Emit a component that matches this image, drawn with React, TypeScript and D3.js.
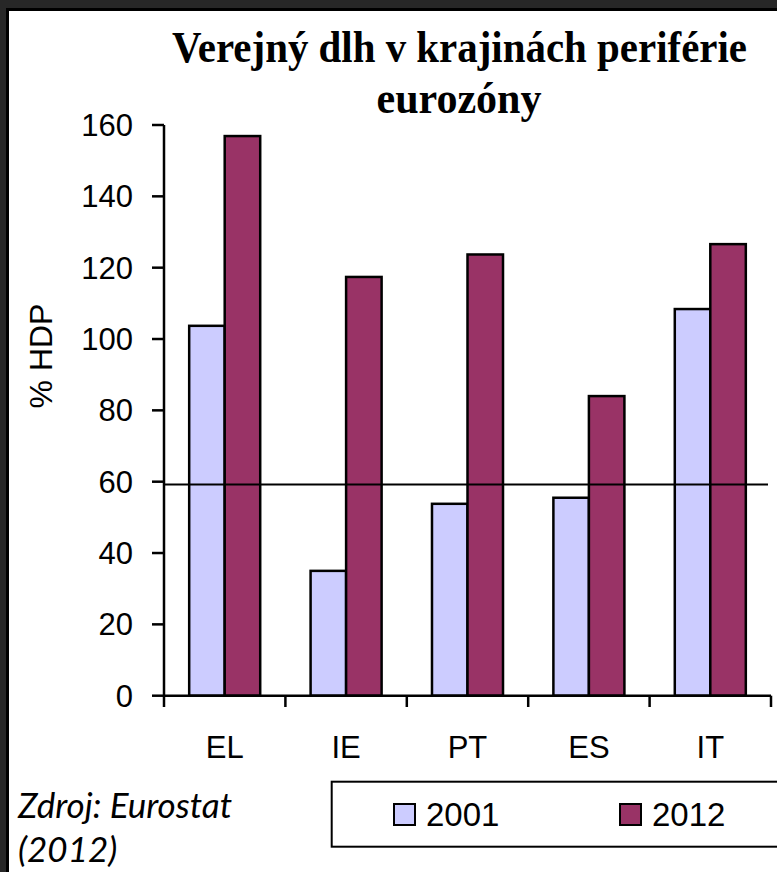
import React, { useLayoutEffect, useRef, useState } from "react";
import * as d3 from "d3";

const categories = ["EL", "IE", "PT", "ES", "IT"];
const seriesNames = ["2001", "2012"];
const values2001 = [103.7, 35.0, 53.8, 55.5, 108.4];
const values2012 = [156.9, 117.4, 123.7, 84.0, 126.6];
const yTicks = [0, 20, 40, 60, 80, 100, 120, 140, 160];
const referenceValue = 59.2;
const colors = ["#CCCCFF", "#993366"];
const titleLines = ["Verejný dlh v krajinách periférie", "eurozóny"];

const W = 777;
const H = 872;
const axisX0 = 164;
const axisX1 = 771;
const y0 = 695.7;
const yTop = 125;

function FitText({ text, cx, y, width, fontSize }: { text: string; cx: number; y: number; width: number; fontSize: number }) {
  const ref = useRef<SVGTextElement>(null);
  const [sx, setSx] = useState(0.8);
  useLayoutEffect(() => {
    if (ref.current) {
      const w = ref.current.getComputedTextLength();
      if (w > 0) setSx(width / w);
    }
  }, [text, width]);
  return (
    <text
      ref={ref}
      transform={`translate(${cx},${y}) scale(${sx},1)`}
      textAnchor="middle"
      fontFamily="'Liberation Serif', 'Times New Roman', serif"
      fontWeight="bold"
      fontSize={fontSize}
    >
      {text}
    </text>
  );
}

export default function App() {
  const y = d3.scaleLinear().domain([0, 160]).range([y0, yTop]);
  const p = 0.415;
  const x = d3
    .scaleBand<string>()
    .domain(categories)
    .range([axisX0, axisX1])
    .paddingInner(p)
    .paddingOuter(p / 2);
  const xs = d3.scaleBand<string>().domain(seriesNames).range([0, x.bandwidth()]);
  const step = x.step();
  const boundaries = [...categories.map((c) => (x(c) as number) - (step * p) / 2), axisX1];
  const series = [values2001, values2012];
  const sans = "'Liberation Sans', Arial, sans-serif";
  const italicFont = "Lato, 'Open Sans', sans-serif";

  return (
    <svg width={W} height={H} style={{ position: "absolute", left: 0, top: 0 }}>
      <style>{`body{margin:0}`}</style>
      <rect x={0} y={0} width={W} height={H} fill="#272727" />
      <rect x={6} y={8} width={W} height={H} fill="#000" />
      <rect x={9} y={11} width={W} height={H} fill="#fff" />

      <FitText text={titleLines[0]} cx={459.5} y={62} width={575} fontSize={45} />
      <FitText text={titleLines[1]} cx={459} y={113} width={165} fontSize={45} />

      {/* bars */}
      {series.map((vals, si) =>
        categories.map((c, ci) => (
          <rect
            key={`${si}-${c}`}
            x={(x(c) as number) + (xs(seriesNames[si]) as number)}
            y={y(vals[ci])}
            width={xs.bandwidth()}
            height={y0 - y(vals[ci])}
            fill={colors[si]}
            stroke="#000"
            strokeWidth={2.5}
          />
        ))
      )}

      {/* reference line */}
      <line x1={axisX0} x2={768} y1={y(referenceValue)} y2={y(referenceValue)} stroke="#000" strokeWidth={2} />

      {/* y axis */}
      <line x1={axisX0} x2={axisX0} y1={yTop} y2={y0} stroke="#000" strokeWidth={2.5} />
      {yTicks.map((t) => (
        <g key={t}>
          <line x1={152} x2={axisX0} y1={y(t)} y2={y(t)} stroke="#000" strokeWidth={2.5} />
          <text x={133} y={y(t) + 11} textAnchor="end" fontFamily={sans} fontSize={31} fill="#000">
            {t}
          </text>
        </g>
      ))}

      {/* x axis */}
      <line x1={axisX0} x2={axisX1} y1={y0} y2={y0} stroke="#000" strokeWidth={2.5} />
      {boundaries.map((b, i) => (
        <line key={i} x1={b} x2={b} y1={y0} y2={707} stroke="#000" strokeWidth={2.5} />
      ))}
      {categories.map((c) => (
        <text
          key={c}
          x={(x(c) as number) + x.bandwidth() / 2}
          y={758}
          textAnchor="middle"
          fontFamily={sans}
          fontSize={31}
        >
          {c}
        </text>
      ))}

      <text transform={`translate(52,356) rotate(-90)`} textAnchor="middle" fontFamily={sans} fontSize={32}>
        % HDP
      </text>

      {/* legend */}
      <rect x={331.7} y={781.7} width={470} height={65} fill="#fff" stroke="#000" strokeWidth={2} />
      {seriesNames.map((s, i) => {
        const lx = i === 0 ? 394 : 620;
        return (
          <g key={s}>
            <rect x={lx} y={804} width={21} height={21} fill={colors[i]} stroke="#000" strokeWidth={2} />
            <text x={lx + 32} y={826} fontFamily={sans} fontSize={33}>
              {s}
            </text>
          </g>
        );
      })}

      {/* source */}
      <text x={18} y={818} fontFamily={italicFont} fontStyle="italic" fontSize={35}>
        Zdroj: Eurostat
      </text>
      <text x={18} y={862} fontFamily={italicFont} fontStyle="italic" fontSize={35}>
        (2012)
      </text>
    </svg>
  );
}
